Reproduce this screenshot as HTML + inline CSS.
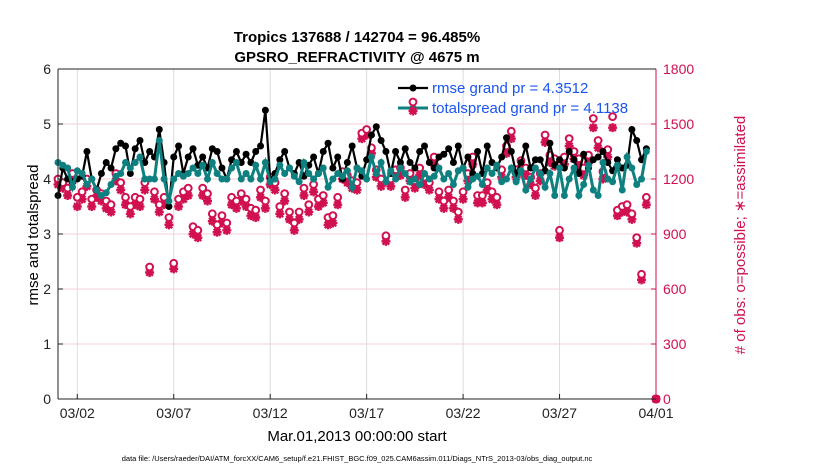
<!DOCTYPE html>
<html><head><meta charset="utf-8"><style>
body{margin:0;background:#fff;}
svg{display:block;font-family:"Liberation Sans",sans-serif;}
</style></head><body>
<svg id="chart" width="830" height="470" viewBox="0 0 830 470">
<text x="357" y="42" text-anchor="middle" font-size="15" font-weight="bold">Tropics 137688 / 142704 = 96.485%</text>
<text x="357" y="62" text-anchor="middle" font-size="15" font-weight="bold">GPSRO_REFRACTIVITY @ 4675 m</text>
<g id="grid"></g>
<g id="marks"></g>
<g id="axes"></g>
<text transform="translate(38,235) rotate(-90)" text-anchor="middle" font-size="15">rmse and totalspread</text>
<text transform="translate(745,235) rotate(-90)" text-anchor="middle" font-size="15" fill="#d0104f"># of obs: o=possible; ∗=assimilated</text>
<text x="357" y="441" text-anchor="middle" font-size="15">Mar.01,2013 00:00:00 start</text>
<text x="357" y="461" text-anchor="middle" font-size="7.5">data file: /Users/raeder/DAI/ATM_forcXX/CAM6_setup/f.e21.FHIST_BGC.f09_025.CAM6assim.011/Diags_NTrS_2013-03/obs_diag_output.nc</text>
<g id="legend"></g>
</svg>
<script>
const xTickLabels=["03/02","03/07","03/12","03/17","03/22","03/27","04/01"];
const xTickDays=[1,6,11,16,21,26,31];
const yLeftTicks=[0,1,2,3,4,5,6];
const yRightTicks=[0,300,600,900,1200,1500,1800];
const rmse=[3.7,4.2,4.0,3.95, 4.0,4.05,4.5,4.0, 3.8,4.1,4.3,4.2, 4.55,4.65,4.6,4.1, 4.55,4.7,4.3,4.5, 4.4,4.9,4.3,3.5, 4.4,4.6,4.1,4.4, 4.55,4.25,4.4,4.2, 4.55,4.5,4.2,4.0, 4.35,4.5,4.3,4.45, 4.3,4.5,4.6,5.25, 4.0,4.1,4.35,4.5, 4.2,4.1,4.3,4.05, 4.25,4.4,4.1,4.5, 4.65,4.2,4.4,4.0, 4.3,4.6,4.2,4.05, 4.35,4.8,4.95,4.7, 4.5,4.1,4.5,4.3, 4.55,4.3,4.2,4.5, 4.6,4.3,4.2,4.4, 4.45,4.55,4.3,4.6, 4.2,4.4,4.1,4.5, 4.1,4.6,4.3,4.2, 4.4,4.75,4.5,4.1, 4.3,4.6,4.2,4.35, 4.35,4.15,4.65,4.25, 4.35,4.2,4.5,4.35, 4.1,4.45,4.2,4.35, 4.4,4.5,4.3,4.15, 4.35,4.2,4.25,4.9, 4.7,4.35,4.55];
const spread=[4.3,4.25,4.2,3.85, 4.15,4.1,3.9,4.0, 3.8,3.7,3.75,3.9, 4.05,4.1,4.3,4.2, 4.3,4.4,4.0,4.0, 4.0,4.7,4.0,3.6, 4.0,4.1,4.05,4.1, 4.2,4.1,4.25,4.0, 4.3,4.1,4.0,4.0, 4.2,4.3,4.0,4.1, 4.0,4.25,4.0,4.3, 3.95,4.0,4.25,4.1, 4.2,4.05,3.95,4.3, 4.1,4.0,4.1,4.2, 3.85,4.0,4.1,4.05, 4.15,3.85,4.2,4.15, 4.0,4.4,4.1,4.3, 3.95,4.15,4.0,4.2, 4.1,3.95,4.0,3.9, 4.1,4.0,4.05,4.2, 4.0,4.1,3.9,4.15, 4.2,3.85,4.0,4.05, 3.9,4.2,4.1,4.25, 3.95,4.0,4.2,3.95, 4.15,3.8,4.0,4.2, 4.1,3.85,4.1,3.7, 4.2,3.7,4.0,4.2, 3.7,3.9,4.25,3.8, 3.7,4.3,4.0,3.95, 4.25,3.8,4.4,4.2, 3.9,4.0,4.5];
const obsPossible=[1200,1180,1150,1230, 1100,1130,1200,1090, 1140,1120,1080,1060, 1230,1180,1100,1050, 1100,1090,1180,720, 1130,1060,1100,990, 740,1090,1130,1150, 940,920,1150,1120, 1010,950,1000,960, 1100,1080,1120,1090, 1040,1030,1140,1080, 1210,1180,1050,1120, 1020,960,1020,1150, 1060,1170,1090,1110, 990,1000,1100,1240, 1220,1190,1180,1450, 1470,1370,1250,1200, 890,1200,1250,1260, 1140,1230,1190,1260, 1210,1180,1320,1130, 1080,1140,1080,1020, 1130,1230,1320,1110, 1110,1180,1130,1100, 1250,1380,1460,1250, 1300,1260,1210,1150, 1230,1440,1330,1310, 920,1320,1420,1350, 1310,1260,1330,1530, 1410,1240,1360,1540, 1030,1050,1060,1010, 880,680,1100,0];
const obsAssim=[1170,1150,1110,1190, 1050,1090,1160,1050, 1100,1080,1040,1020, 1190,1140,1060,1010, 1060,1050,1140,690, 1090,1020,1060,950, 710,1050,1090,1110, 900,880,1110,1080, 970,910,960,920, 1060,1040,1080,1050, 1000,990,1100,1040, 1170,1140,1010,1080, 980,920,980,1110, 1020,1130,1050,1070, 950,960,1060,1200, 1180,1150,1140,1420, 1440,1340,1210,1160, 860,1160,1210,1220, 1100,1190,1150,1220, 1170,1140,1280,1090, 1040,1100,1040,980, 1090,1190,1280,1070, 1070,1140,1090,1060, 1210,1340,1420,1210, 1260,1220,1170,1110, 1190,1400,1290,1270, 880,1280,1380,1310, 1270,1220,1290,1480, 1370,1200,1320,1480, 1000,1020,1020,980, 850,650,1060,0];

const NS="http://www.w3.org/2000/svg";
const X0=58,X1=656,Y0=399,Y1=69;
const xs=d=>X0+(d/31)*(X1-X0);
const yL=v=>Y0-(v/6)*(Y0-Y1);
const yR=v=>Y0-(v/1800)*(Y0-Y1);
const dayOf=i=>i*0.25;
function mk(tag,attrs,parent){const e=document.createElementNS(NS,tag);for(const k in attrs)e.setAttribute(k,attrs[k]);parent.appendChild(e);return e;}
const grid=document.getElementById('grid'),marks=document.getElementById('marks'),axes=document.getElementById('axes'),legend=document.getElementById('legend');
const RED="#d0104f",TEAL="#0e8080";
xTickDays.forEach((d,i)=>{
  const g=mk('line',{x1:xs(d),x2:xs(d),y1:Y1,y2:Y0,stroke:'#dcdcdc','stroke-width':1},grid);
  
  const t=mk('line',{x1:xs(d),x2:xs(d),y1:Y0,y2:Y0-5,stroke:'#222'},axes);
  
  const l=mk('text',{x:xs(d),y:Y0+19,'text-anchor':'middle','font-size':14,fill:'#222'},axes);l.textContent=xTickLabels[i];
  
});
yLeftTicks.forEach(v=>{
  if(v>0&&v<6){const g=mk('line',{x1:X0,x2:X1,y1:yL(v),y2:yL(v),stroke:'#f6cfdc','stroke-width':1},grid);
  }
  const t=mk('line',{x1:X0,x2:X0+5,y1:yL(v),y2:yL(v),stroke:'#222'},axes);
  
  const l=mk('text',{x:X0-7,y:yL(v)+5,'text-anchor':'end','font-size':14,fill:'#222'},axes);l.textContent=v;
  
});
yRightTicks.forEach(v=>{
  const t=mk('line',{x1:X1,x2:X1-5,y1:yR(v),y2:yR(v),stroke:RED},axes);
  
  const l=mk('text',{x:X1+7,y:yR(v)+5,'font-size':14,fill:RED},axes);l.textContent=v;
  
});
let a=mk('line',{x1:X0,x2:X1,y1:Y0,y2:Y0,stroke:'#222'},axes);
a=mk('line',{x1:X0,x2:X0,y1:Y1,y2:Y0,stroke:'#222'},axes);
a=mk('line',{x1:X1,x2:X1,y1:Y1,y2:Y0,stroke:RED},axes);
a=mk('line',{x1:X0,x2:X1,y1:Y1,y2:Y1,stroke:'#222'},axes);

function star(x,y,parent,name){
  const p=mk('path',{d:`M${x-4.5},${y}H${x+4.5}M${x},${y-4.5}V${y+4.5}M${x-3.3},${y-3.3}L${x+3.3},${y+3.3}M${x-3.3},${y+3.3}L${x+3.3},${y-3.3}`,stroke:RED,'stroke-width':2.4},parent);
  
}
function circ(x,y,parent,name){
  const c=mk('circle',{cx:x,cy:y,r:3.4,fill:'#fff',stroke:RED,'stroke-width':2},parent);
  
}
obsAssim.forEach((v,i)=>{const d=i<obsAssim.length-1?dayOf(i):31;star(xs(d),yR(v),marks,'obs-assimilated-point');});
obsPossible.forEach((v,i)=>{const d=i<obsPossible.length-1?dayOf(i):31;circ(xs(d),yR(v),marks,'obs-possible-point');});
const rp=mk('polyline',{points:rmse.map((v,i)=>xs(dayOf(i))+','+yL(v)).join(' '),fill:'none',stroke:'#000','stroke-width':2.2},marks);

rmse.forEach((v,i)=>{const c=mk('circle',{cx:xs(dayOf(i)),cy:yL(v),r:3.5,fill:'#000'},marks);});
const sp=mk('polyline',{points:spread.map((v,i)=>xs(dayOf(i))+','+yL(v)).join(' '),fill:'none',stroke:TEAL,'stroke-width':3},marks);

spread.forEach((v,i)=>{const c=mk('circle',{cx:xs(dayOf(i)),cy:yL(v),r:3.5,fill:TEAL},marks);});
star(xs(31),yR(0),marks,'obs-final-zero-point');

let l1=mk('line',{x1:398,x2:428,y1:88,y2:88,stroke:'#000','stroke-width':2.2},legend);
let c1=mk('circle',{cx:413,cy:88,r:3.5,fill:'#000'},legend);
let t1=mk('text',{x:432,y:93,'font-size':15,fill:'#1a55f0'},legend);t1.textContent='rmse grand pr = 4.3512';
let l2=mk('line',{x1:398,x2:428,y1:108,y2:108,stroke:TEAL,'stroke-width':3},legend);
let c2=mk('circle',{cx:413,cy:108,r:3.5,fill:TEAL},legend);
star(413,111,legend,'legend-assim-marker');circ(413,102,legend,'legend-possible-marker');
let t2=mk('text',{x:432,y:113,'font-size':15,fill:'#1a55f0'},legend);t2.textContent='totalspread grand pr = 4.1138';
</script>
</body></html>
